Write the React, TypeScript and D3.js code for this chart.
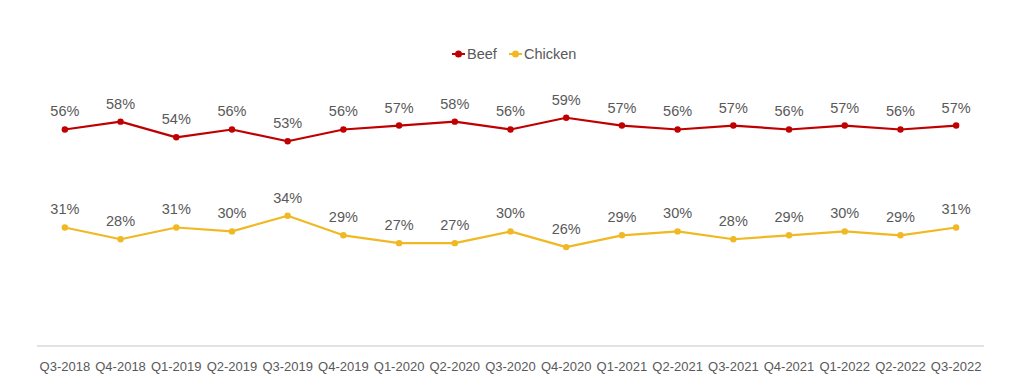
import React from "react";
import * as d3 from "d3";

const categories = ["Q3-2018","Q4-2018","Q1-2019","Q2-2019","Q3-2019","Q4-2019","Q1-2020","Q2-2020","Q3-2020","Q4-2020","Q1-2021","Q2-2021","Q3-2021","Q4-2021","Q1-2022","Q2-2022","Q3-2022"];
const beef = [56,58,54,56,53,56,57,58,56,59,57,56,57,56,57,56,57];
const chicken = [31,28,31,30,34,29,27,27,30,26,29,30,28,29,30,29,31];
const seriesNames = ["Beef", "Chicken"];
const seriesColors = ["#C00000", "#F0B823"];

const W = 1025, H = 375;
const FONT = "'Liberation Sans', Arial, sans-serif";
const TEXT = "#595959";

export default function App() {
  const x = d3.scaleBand<string>().domain(categories).range([37, 984]);
  const y = d3.scaleLinear().domain([0, 80]).range([349, 35.4]);
  const line = d3.line<number>()
    .x((_, i) => (x(categories[i]) as number) + x.bandwidth() / 2)
    .y((d) => y(d));
  const series = [beef, chicken];
  return (
    <svg width={W} height={H} style={{ position: "absolute", left: 0, top: 0, background: "#fff" }} fontFamily={FONT}>
      <rect x={0} y={0} width={W} height={H} fill="#fff" />
      {seriesNames.map((n, i) => {
        const lx = i === 0 ? 452 : 509;
        return (
          <g key={n}>
            <line x1={lx} x2={lx + 13} y1={54} y2={54} stroke={seriesColors[i]} strokeWidth={2} />
            <circle cx={lx + 6.5} cy={54} r={3.5} fill={seriesColors[i]} />
            <text x={lx + 15} y={59} fontSize={14.5} fill={TEXT}>{n}</text>
          </g>
        );
      })}
      <line x1={37} x2={984} y1={346} y2={346} stroke="#d9d9d9" strokeWidth={1.5} />
      {categories.map((c) => (
        <text key={c} x={(x(c) as number) + x.bandwidth() / 2} y={371} fontSize={13} fill={TEXT} textAnchor="middle">{c}</text>
      ))}
      {series.map((s, si) => (
        <g key={si}>
          <path d={line(s) || ""} fill="none" stroke={seriesColors[si]} strokeWidth={2.2} strokeLinejoin="round" />
          {s.map((v, i) => {
            const cx = (x(categories[i]) as number) + x.bandwidth() / 2;
            return (
              <g key={i}>
                <circle cx={cx} cy={y(v)} r={3.2} fill={seriesColors[si]} />
                <text x={cx} y={y(v) - 13} fontSize={14.5} fill={TEXT} textAnchor="middle">{v}%</text>
              </g>
            );
          })}
        </g>
      ))}
    </svg>
  );
}
